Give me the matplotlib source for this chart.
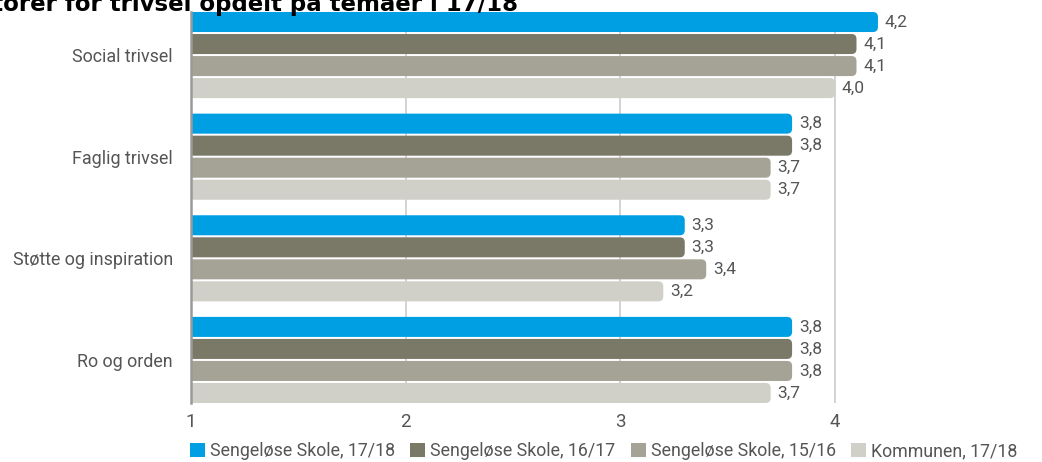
import matplotlib.pyplot as plt
from matplotlib.patches import FancyBboxPatch, Patch

categories = ["Social trivsel", "Faglig trivsel", "Støtte og inspiration", "Ro og orden"]
series_names = ["Sengeløse Skole, 17/18", "Sengeløse Skole, 16/17",
                "Sengeløse Skole, 15/16", "Kommunen, 17/18"]
values = [
    [4.2, 3.8, 3.3, 3.8],
    [4.1, 3.8, 3.3, 3.8],
    [4.1, 3.7, 3.4, 3.8],
    [4.0, 3.7, 3.2, 3.7],
]
colors = ["#009fe3", "#7a7866", "#a5a396", "#d0d0c8"]
xticks = [1, 2, 3, 4, 5]

plt.rcParams['font.family'] = ['Roboto', 'DejaVu Sans']
txt = "#555555"

fig = plt.figure(figsize=(10.42, 4.62), dpi=100)
W, H = 1042, 462
ax = fig.add_axes([191 / W, (H - 403) / H, 858.7 / W, 391 / H])

bar_h = 20 / 101.5
step = 22 / 101.5
xr = 5 / 214.67
aspect = 214.67 / 101.5

for j, (name, vals, c) in enumerate(zip(series_names, values, colors)):
    ys = [i + j * step for i in range(len(categories))]
    bars = ax.barh(ys, [v - 0.9 for v in vals], left=0.9, height=bar_h,
                   align='edge', color=c, label=name)
    for b, v in zip(bars, vals):
        # swap the plain bar for one with rounded ends
        b.set_visible(False)
        p = FancyBboxPatch((b.get_x(), b.get_y()), b.get_width(), b.get_height(),
                           boxstyle="round,pad=0,rounding_size=%f" % xr,
                           mutation_aspect=aspect, fc=c, ec='none', zorder=3)
        ax.add_patch(p)
        ax.annotate(("%.1f" % v).replace(".", ","), (v, b.get_y() + bar_h / 2),
                    xytext=(5, 0), textcoords='offset points', va='center',
                    ha='left', fontsize=12.5, color=txt)

ax.set_xlim(1, 5)
ax.set_ylim(3 + 3 * step + bar_h, 0)
ax.set_xticks(xticks)
ax.set_xticklabels([str(t) for t in xticks])
ax.set_yticks([i + (3 * step + bar_h) / 2 for i in range(len(categories))])
ax.set_yticklabels(categories)
ax.tick_params(axis='y', length=0, pad=13, labelsize=12.9, labelcolor=txt)
ax.tick_params(axis='x', length=0, pad=7, labelsize=13.5, labelcolor=txt)
for s in ['top', 'right', 'bottom']:
    ax.spines[s].set_visible(False)
ax.spines['left'].set_color('#999999')
ax.spines['left'].set_linewidth(1.8)
ax.spines['left'].set_zorder(4)
for t in xticks[1:]:
    ax.axvline(t, color='#cccccc', lw=1.2, zorder=1)

handles = [Patch(fc=c, ec='none') for c in colors]
fig.legend(handles, series_names, loc='center left', bbox_to_anchor=(190 / W, 1 - 451 / H),
           ncol=4, frameon=False, fontsize=12.8, handlelength=0.84, handleheight=0.84,
           handletextpad=0.28, columnspacing=0.86, labelcolor=txt, borderpad=0, borderaxespad=0)

fig.text(518 / W, 1 - 11 / H, "Indikatorer for trivsel opdelt på temaer i 17/18",
         ha='right', va='baseline', fontsize=16.5, fontweight='bold',
         family='DejaVu Sans', color='black')

fig.savefig("out.png", dpi=100)
